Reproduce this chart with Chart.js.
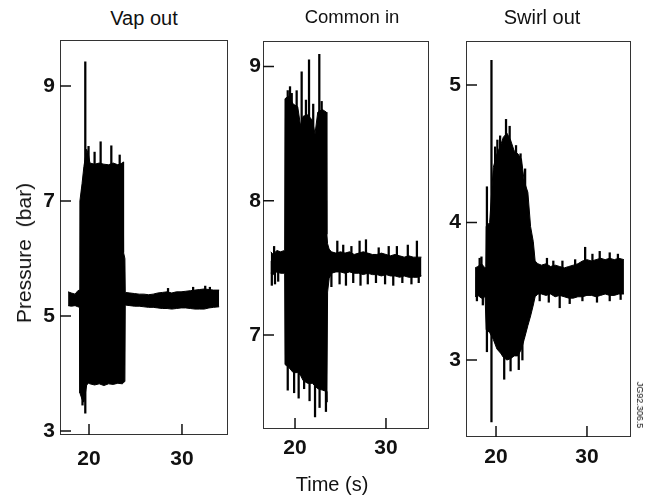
<!DOCTYPE html>
<html>
<head>
<meta charset="utf-8">
<script src="https://cdn.jsdelivr.net/npm/chart.js@4.4.1/dist/chart.umd.min.js"></script>
<style>
  body { margin: 0; background: #fff; }
  #fig { position: relative; width: 655px; height: 499px; font-family: "Liberation Sans", Arial, sans-serif; color: #111; }
  canvas { position: absolute; }
  .txt { position: absolute; white-space: nowrap; font-size: 20px; transform: translate(-50%, -50%); }
</style>
</head>
<body>
<div id="fig">
  <canvas id="vap"></canvas>
  <canvas id="common"></canvas>
  <canvas id="swirl"></canvas>
  <div class="txt" style="left:144px; top:18px;">Vap out</div>
  <div class="txt" style="left:352px; top:17px; font-size:18.5px;">Common in</div>
  <div class="txt" style="left:542px; top:17px;">Swirl out</div>
  <div class="txt" style="left:24px; top:253px; font-size:21px; transform: translate(-50%, -50%) rotate(-90deg); word-spacing: 6px;">Pressure (bar)</div>
  <div class="txt" style="left:332px; top:484px;">Time (s)</div>
  <div class="txt" style="left:640px; top:405px; font-size:9px; transform: translate(-50%, -50%) rotate(90deg);">JG92.306.5</div>
</div>
<script>
// tick labels
const timeTicks = [20, 30];
const vapYTicks = [3, 5, 7, 9];
const commonYTicks = [7, 8, 9];
const swirlYTicks = [3, 4, 5];

// Vap out: envelope of the trace (upper / lower edge)
const vapTime = [17.75, 18.1, 18.5, 18.8, 18.98, 19.02, 19.25, 19.45, 19.75, 19.95, 20.1, 20.6, 21.1, 21.6, 22.1, 22.6, 23.1, 23.6, 23.68, 23.72, 23.86, 23.9, 24.4, 24.9, 25.4, 25.9, 26.4, 26.9, 27.4, 27.9, 28.4, 28.9, 29.4, 29.9, 30.4, 30.9, 31.4, 31.9, 32.4, 32.9, 33.4, 34.0];
const vapHigh = [5.42, 5.40, 5.38, 5.44, 5.45, 7.00, 7.30, 7.60, 7.90, 7.80, 7.66, 7.64, 7.66, 7.64, 7.63, 7.66, 7.63, 7.66, 7.68, 6.10, 6.00, 5.41, 5.40, 5.39, 5.38, 5.38, 5.37, 5.38, 5.40, 5.41, 5.42, 5.40, 5.42, 5.42, 5.43, 5.44, 5.45, 5.46, 5.47, 5.46, 5.45, 5.45];
const vapLow = [5.18, 5.17, 5.18, 5.16, 5.15, 3.66, 3.55, 3.50, 3.80, 3.83, 3.82, 3.80, 3.82, 3.79, 3.82, 3.81, 3.83, 3.82, 3.84, 3.84, 3.86, 5.19, 5.18, 5.17, 5.17, 5.16, 5.15, 5.15, 5.14, 5.13, 5.13, 5.12, 5.13, 5.14, 5.14, 5.13, 5.12, 5.12, 5.12, 5.14, 5.15, 5.16];
// Vap out: single spikes
const vapSpikeTime = [19.3, 19.6, 19.95, 20.6, 21.25, 22.4, 23.3, 28.5, 31.2, 32.5, 33.0];
const vapSpikeLow = [3.45, 3.31, 7.5, 7.5, 7.5, 7.5, 7.5, 5.3, 5.3, 5.3, 5.3];
const vapSpikeHigh = [7.2, 9.42, 7.95, 7.85, 8.03, 7.96, 7.80, 5.48, 5.50, 5.52, 5.50];

// Common in
const commonTime = [17.33, 17.6, 18.0, 18.4, 18.86, 18.9, 19.3, 19.8, 20.3, 20.6, 20.9, 21.4, 21.9, 22.2, 22.5, 23.0, 23.45, 23.5, 23.58, 23.75, 24.0, 24.5, 25.0, 25.5, 26.0, 26.5, 27.0, 27.5, 28.0, 28.5, 29.0, 29.5, 30.0, 30.5, 31.0, 31.5, 32.0, 32.5, 33.0, 33.5, 33.9];
const commonHigh = [7.62, 7.60, 7.63, 7.62, 7.63, 8.76, 8.78, 8.72, 8.70, 8.56, 8.63, 8.64, 8.60, 8.50, 8.66, 8.68, 8.66, 7.75, 7.68, 7.64, 7.62, 7.61, 7.62, 7.61, 7.62, 7.60, 7.61, 7.62, 7.61, 7.60, 7.60, 7.61, 7.60, 7.59, 7.60, 7.59, 7.58, 7.59, 7.58, 7.58, 7.58];
const commonLow = [7.46, 7.45, 7.47, 7.46, 7.46, 6.78, 6.76, 6.72, 6.72, 6.70, 6.66, 6.64, 6.64, 6.62, 6.60, 6.59, 6.58, 6.50, 7.32, 7.42, 7.46, 7.47, 7.47, 7.46, 7.47, 7.46, 7.46, 7.45, 7.46, 7.45, 7.45, 7.44, 7.45, 7.44, 7.44, 7.43, 7.44, 7.43, 7.43, 7.43, 7.44];
const commonSpikeTime = [17.45, 17.7, 17.8, 18.15, 19.2, 19.45, 19.64, 19.9, 20.18, 20.4, 20.73, 21.0, 21.2, 21.54, 21.6, 22.0, 22.2, 22.67, 22.7, 22.93, 23.4, 24.0, 24.65, 24.9, 25.3, 25.6, 26.2, 26.4, 27.1, 27.2, 27.8, 28.0, 28.9, 29.2, 29.9, 30.3, 30.8, 31.2, 31.8, 32.4, 32.8, 33.4, 33.6];
const commonSpikeLow = [7.37, 7.5, 7.38, 7.40, 6.59, 7.0, 7.0, 6.57, 7.0, 6.53, 7.0, 6.60, 7.0, 7.0, 6.51, 7.0, 6.39, 7.0, 6.46, 7.0, 6.43, 7.36, 7.5, 7.38, 7.5, 7.37, 7.5, 7.39, 7.5, 7.37, 7.5, 7.38, 7.39, 7.5, 7.38, 7.5, 7.37, 7.5, 7.39, 7.5, 7.38, 7.5, 7.39];
const commonSpikeHigh = [7.55, 7.66, 7.55, 7.55, 8.82, 8.85, 8.80, 8.0, 8.82, 8.0, 8.96, 8.0, 8.75, 9.05, 8.0, 8.72, 8.0, 9.09, 8.0, 8.74, 8.0, 7.55, 7.70, 7.55, 7.67, 7.55, 7.66, 7.55, 7.70, 7.55, 7.71, 7.55, 7.55, 7.65, 7.55, 7.66, 7.55, 7.66, 7.55, 7.67, 7.55, 7.70, 7.55];

// Swirl out
const swirlTime = [17.7, 18.0, 18.4, 18.8, 18.88, 18.92, 19.3, 19.7, 20.1, 20.5, 20.8, 21.2, 21.6, 22.0, 22.4, 22.8, 23.1, 23.5, 23.8, 24.1, 24.3, 24.6, 25.0, 25.5, 26.0, 26.5, 27.0, 27.5, 28.0, 28.5, 29.0, 29.5, 30.0, 30.5, 31.0, 31.5, 32.0, 32.5, 33.0, 33.5, 34.06];
const swirlHigh = [3.67, 3.68, 3.70, 3.67, 3.68, 3.97, 4.00, 4.40, 4.50, 4.56, 4.62, 4.65, 4.60, 4.52, 4.50, 4.46, 4.30, 4.22, 3.97, 3.86, 3.72, 3.70, 3.69, 3.70, 3.68, 3.69, 3.68, 3.67, 3.68, 3.69, 3.70, 3.72, 3.73, 3.72, 3.73, 3.74, 3.73, 3.74, 3.73, 3.74, 3.73];
const swirlLow = [3.46, 3.47, 3.45, 3.46, 3.46, 3.22, 3.20, 3.15, 3.08, 3.05, 3.02, 3.00, 3.01, 3.03, 3.03, 3.08, 3.15, 3.25, 3.32, 3.40, 3.46, 3.48, 3.48, 3.47, 3.48, 3.46, 3.47, 3.46, 3.45, 3.45, 3.46, 3.46, 3.47, 3.47, 3.46, 3.47, 3.48, 3.47, 3.47, 3.48, 3.48];
const swirlSpikeTime = [17.9, 18.2, 18.4, 18.55, 19.0, 19.5, 19.9, 20.15, 20.45, 20.9, 21.1, 21.5, 21.6, 22.2, 22.5, 22.7, 22.9, 23.2, 24.8, 25.6, 25.8, 26.3, 27.0, 27.3, 28.1, 28.7, 29.5, 29.8, 30.6, 31.1, 31.4, 32.5, 33.4, 33.7];
const swirlSpikeLow = [3.43, 3.5, 3.5, 3.40, 3.06, 2.55, 4.0, 4.0, 4.0, 2.86, 4.0, 4.0, 2.92, 4.0, 2.93, 4.0, 3.0, 4.0, 3.43, 3.6, 3.42, 3.6, 3.38, 3.6, 3.41, 3.6, 3.43, 3.6, 3.6, 3.42, 3.6, 3.43, 3.6, 3.44];
const swirlSpikeHigh = [3.6, 3.74, 3.75, 3.6, 4.26, 5.18, 4.55, 4.60, 4.63, 3.5, 4.75, 4.70, 3.5, 4.56, 3.5, 4.50, 3.5, 4.39, 3.6, 3.74, 3.6, 3.72, 3.6, 3.72, 3.6, 3.73, 3.6, 3.82, 3.77, 3.6, 3.79, 3.78, 3.77, 3.6];

const AXIS_W = 45, AXIS_H = 40, PAD_TOP = 4, PAD_RIGHT = 6;
const tickFont = { family: 'Liberation Sans', size: 21, weight: 'bold' };

// frame round the plot area and inward tick marks
const framePlugin = {
    id: 'frame',
    afterDatasetsDraw(chart) {
        const { ctx, chartArea: a, scales: { x, y } } = chart;
        ctx.save();
        ctx.strokeStyle = '#333';
        ctx.lineWidth = 1;
        ctx.strokeRect(a.left + 0.5, a.top + 0.5, a.width - 1, a.height - 1);
        ctx.strokeStyle = '#111';
        ctx.lineWidth = 1.5;
        ctx.beginPath();
        x.ticks.forEach(t => {
            const px = x.getPixelForValue(t.value);
            ctx.moveTo(px, a.bottom);
            ctx.lineTo(px, a.bottom - 11);
        });
        y.ticks.forEach(t => {
            const py = y.getPixelForValue(t.value);
            ctx.moveTo(a.left, py);
            ctx.lineTo(a.left + 11, py);
        });
        ctx.stroke();
        ctx.restore();
    }
};

function makePanel(id, box, xr, yr, yTicks, yPad, xPad, time, high, low, sTime, sLow, sHigh) {
    const cv = document.getElementById(id);
    cv.width = AXIS_W + (box.right - box.left) + PAD_RIGHT;
    cv.height = PAD_TOP + (box.bottom - box.top) + AXIS_H;
    cv.style.left = (box.left - AXIS_W) + 'px';
    cv.style.top = (box.top - PAD_TOP) + 'px';

    return new Chart(cv.getContext('2d'), {
        type: 'line',
        data: {
            datasets: [
                {
                    data: time.map((t, i) => ({ x: t, y: high[i] })),
                    borderColor: '#000', borderWidth: 1, pointRadius: 0, tension: 0, fill: false
                },
                {
                    data: time.map((t, i) => ({ x: t, y: low[i] })),
                    borderColor: '#000', borderWidth: 1, pointRadius: 0, tension: 0,
                    fill: '-1', backgroundColor: '#000'
                },
                {
                    type: 'bar',
                    data: sTime.map((t, i) => ({ x: t, y: [sLow[i], sHigh[i]] })),
                    backgroundColor: '#000', barThickness: 1.6, grouped: false
                }
            ]
        },
        options: {
            responsive: false,
            animation: false,
            events: [],
            layout: { padding: { top: PAD_TOP, right: PAD_RIGHT, left: 0, bottom: 0 } },
            plugins: { legend: { display: false }, tooltip: { enabled: false } },
            scales: {
                x: {
                    type: 'linear', min: xr[0], max: xr[1], offset: false,
                    grid: { display: false, drawTicks: false },
                    border: { display: false },
                    afterBuildTicks: s => { s.ticks = timeTicks.map(v => ({ value: v })); },
                    afterFit: s => { s.height = AXIS_H; s.paddingLeft = 0; s.paddingRight = 0; },
                    ticks: { font: tickFont, color: '#111', padding: xPad, maxRotation: 0, autoSkip: false }
                },
                y: {
                    type: 'linear', min: yr[0], max: yr[1],
                    grid: { display: false, drawTicks: false },
                    border: { display: false },
                    afterBuildTicks: s => { s.ticks = yTicks.map(v => ({ value: v })); },
                    afterFit: s => { s.width = AXIS_W; s.paddingTop = 0; s.paddingBottom = 0; },
                    ticks: { font: tickFont, color: '#111', padding: yPad, autoSkip: false }
                }
            }
        },
        plugins: [framePlugin]
    });
}

window.addEventListener('DOMContentLoaded', () => {
    makePanel('vap', { left: 60, top: 40, right: 228, bottom: 435 }, [16.88, 34.95], [2.93, 9.80],
        vapYTicks, 5, 12, vapTime, vapHigh, vapLow, vapSpikeTime, vapSpikeLow, vapSpikeHigh);
    makePanel('common', { left: 263, top: 41, right: 429, bottom: 429 }, [16.48, 34.73], [6.30, 9.19],
        commonYTicks, 2, 7, commonTime, commonHigh, commonLow, commonSpikeTime, commonSpikeLow, commonSpikeHigh);
    makePanel('swirl', { left: 466, top: 41, right: 631, bottom: 437 }, [16.70, 34.84], [2.44, 5.32],
        swirlYTicks, 5, 8, swirlTime, swirlHigh, swirlLow, swirlSpikeTime, swirlSpikeLow, swirlSpikeHigh);
});
</script>
</body>
</html>
